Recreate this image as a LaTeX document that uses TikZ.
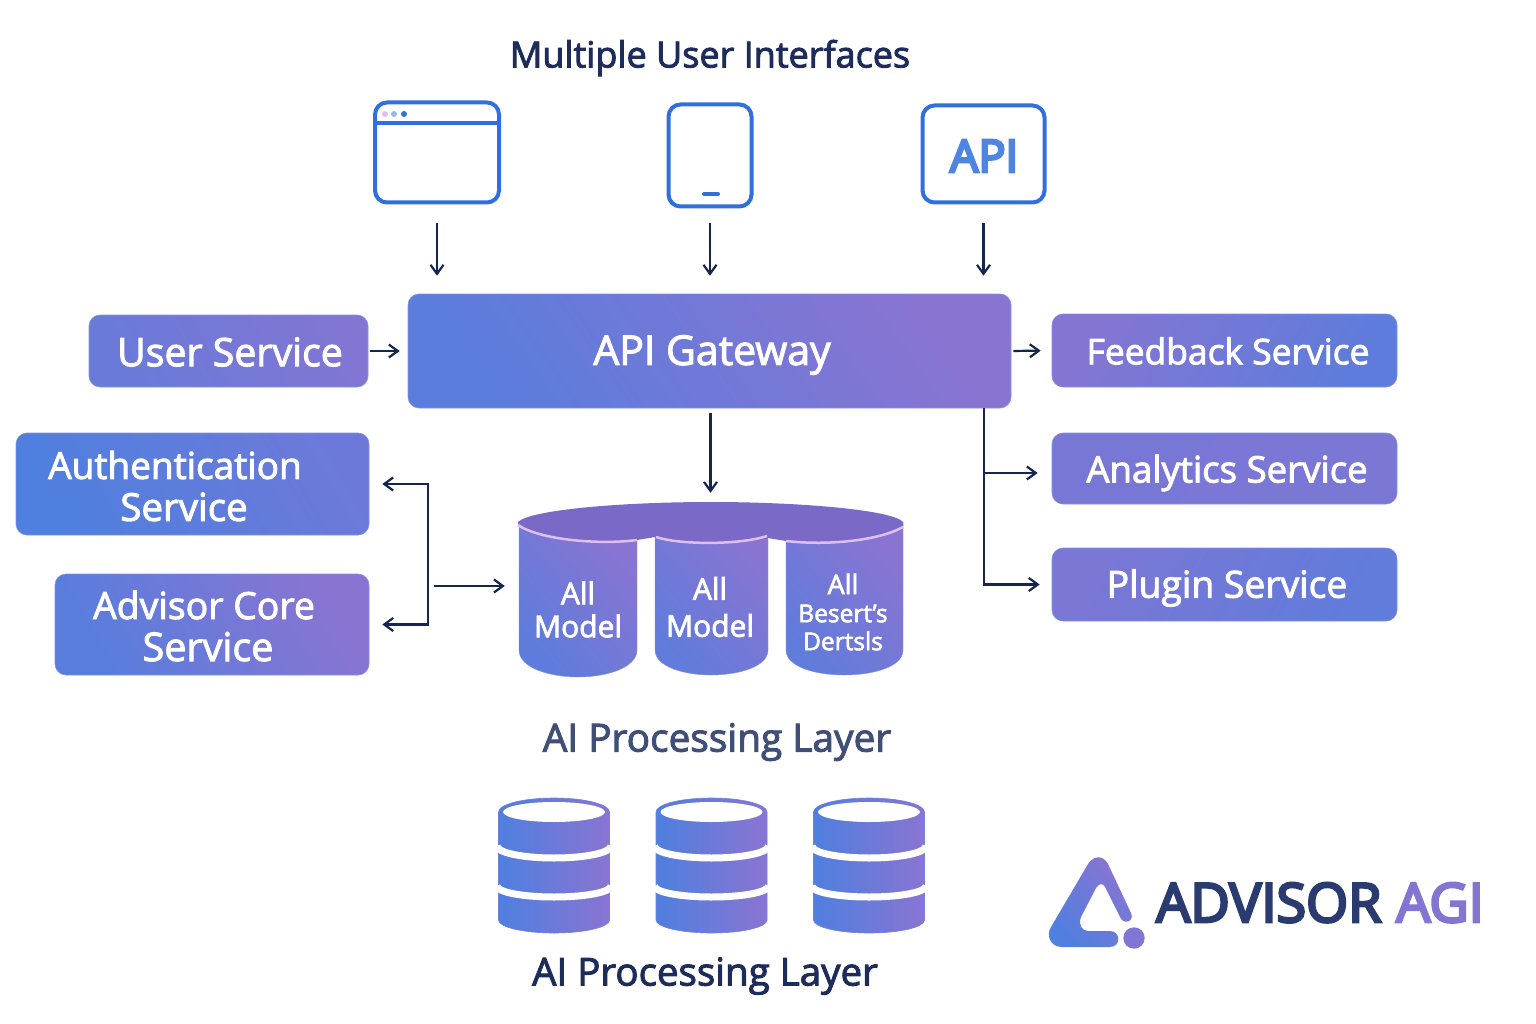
\documentclass[tikz,border=0pt]{standalone}
\usepackage{fontspec}
\setmainfont{Open Sans}[FakeBold=2.5]
\newfontfamily\logofont{Open Sans}[FakeBold=5]
\newfontfamily\apifont{Open Sans}[FakeBold=6]
\usetikzlibrary{calc,positioning,arrows.meta}
\definecolor{navy}{HTML}{14264F}
\definecolor{ink}{HTML}{1E2C5C}
\definecolor{slateink}{HTML}{3F4F78}
\definecolor{iconblue}{HTML}{2F6FDE}
\definecolor{gradblue}{HTML}{4F7FDF}
\definecolor{gradpurple}{HTML}{8A74D2}
\definecolor{edgeblue}{HTML}{4C62D6}
\definecolor{lidpurple}{HTML}{7A69C6}
\definecolor{lidpink}{HTML}{DDBFF0}
\definecolor{logoink}{HTML}{2A3B70}
\begin{document}
\begin{tikzpicture}[x=1pt,y=-1pt,>={Straight Barb[length=9pt,width=13pt]}]
\tikzstyle{flow}=[draw=navy, line width=2.2pt, ->]
\tikzstyle{box}=[shade, draw=edgeblue!70, line width=.6pt, rounded corners=11pt, inner sep=0pt]
\tikzstyle{icon}=[draw=iconblue, line width=4pt, rounded corners=12pt, inner sep=0pt]
\tikzstyle{boxtext}=[text=white, align=center, inner sep=0pt]
\tikzstyle{modeltext}=[text=white, align=center, inner sep=0pt]
\useasboundingbox (0,0) rectangle (1536,1024);
\node[inner sep=0pt, text=ink, font=\fontsize{36}{42}\selectfont] (uititle) at (710,58) {Multiple User Interfaces};
% interfaces
\node[icon, minimum width=124pt, minimum height=100pt] (browser) at (437,152.5) {};
\node[icon, minimum width=83pt, minimum height=102pt] (tablet) at (710,155.5) {};
\node[icon, minimum width=122pt, minimum height=97pt] (apibox) at (983.5,154) {};
\node[inner sep=0pt, text=iconblue!85!white, font=\fontsize{45}{50}\selectfont\apifont] (apitext) at (984,156) {API};
\draw[iconblue, line width=3.5pt] (browser.west |- 0,123) -- (browser.east |- 0,123);
\fill[lidpink] (385,114) circle (3pt);
\fill[iconblue!50] (394,114) circle (3pt);
\fill[iconblue] (404,114) circle (3pt);
\draw[iconblue, line width=4pt, line cap=round] (704,194) -- (718,194);
% services
\node[box, minimum width=603pt, minimum height=114pt, left color=gradblue!80!gradpurple,
      right color=gradpurple, shading angle=125] (gateway) at (709.5,351) {};
\node[box, minimum width=279pt, minimum height=72pt, left color=gradblue!55!gradpurple,
      right color=gradpurple!85!gradblue, shading angle=120] (user) at (228.5,351) {};
\node[box, minimum width=353pt, minimum height=102pt, left color=gradblue,
      right color=gradblue!50!gradpurple, shading angle=120] (auth) at (192.5,484) {};
\node[box, minimum width=314pt, minimum height=101pt, left color=gradblue!85!gradpurple,
      right color=gradpurple, shading angle=120] (advisor) at (212,624.5) {};
\node[box, minimum width=345pt, minimum height=73pt, left color=gradpurple!90!gradblue,
      right color=gradblue!75!gradpurple, shading angle=60] (feedback) at (1224.5,350.5) {};
\node[box, minimum width=345pt, minimum height=71pt, left color=gradpurple!70!gradblue,
      right color=gradpurple!75!gradblue, shading angle=60] (analytics) at (1224.5,468.5) {};
\node[box, minimum width=345pt, minimum height=73pt, left color=gradpurple!75!gradblue,
      right color=gradblue!70!gradpurple, shading angle=60] (plugin) at (1224.5,584.5) {};
\node[boxtext, font=\fontsize{39.3}{42}\selectfont] (usertext) at (230,352) {User Service};
\node[boxtext, font=\fontsize{37}{42}\selectfont] (authtext) at (175,486) {Authentication\\\hspace{18pt}\fontsize{38.5}{42}\selectfont Service};
\node[boxtext, font=\fontsize{37.4}{42}\selectfont] (advisortext) at (204,626) {Advisor Core\\\hspace{8pt}\fontsize{39.5}{42}\selectfont Service};
\node[boxtext, font=\fontsize{41}{46}\selectfont] (gatewaytext) at (712,355) {API Gateway};
\node[boxtext, font=\fontsize{35.4}{40}\selectfont] (feedbacktext) at (1228,351) {Feedback Service};
\node[boxtext, font=\fontsize{36.6}{40}\selectfont] (analyticstext) at (1227,473) {Analytics Service};
\node[boxtext, font=\fontsize{37.3}{40}\selectfont] (plugintext) at (1227,588) {Plugin Service};
% model cylinders
\path[minimum width=385pt, minimum height=175pt] node (models) at (710.5,589.5) {};
\shade[left color=gradblue!75!gradpurple, right color=gradpurple, shading angle=130, draw=edgeblue!70]
  (519,522) -- (519,650) .. controls (519,668) and (550,677) .. (578,677)
  .. controls (606,677) and (637,668) .. (637,650) -- (637,522) -- cycle;
\shade[left color=gradblue!70!gradpurple, right color=gradpurple, shading angle=130, draw=edgeblue!70]
  (655,522) -- (655,650) .. controls (655,667) and (685,675) .. (711,675)
  .. controls (738,675) and (768,667) .. (768,650) -- (768,522) -- cycle;
\shade[left color=gradblue!70!gradpurple, right color=gradpurple, shading angle=130, draw=edgeblue!70]
  (786,522) -- (786,650) .. controls (786,667) and (816,675) .. (844,675)
  .. controls (873,675) and (903,667) .. (903,650) -- (903,522) -- cycle;
\fill[lidpurple] (518,522) .. controls (530,510) and (620,502) .. (711,502)
  .. controls (800,502) and (893,510) .. (903,522) -- (903,527)
  .. controls (880,540) and (830,546) .. (786,541) -- (768,538)
  .. controls (740,545) and (680,545) .. (655,537) -- (637,540)
  .. controls (600,545) and (540,540) .. (518,525) -- cycle;
\draw[lidpink, line width=2.5pt] (518,525) .. controls (540,540) and (600,545) .. (637,540);
\draw[lidpink, line width=2.5pt] (656,537) .. controls (680,545) and (740,545) .. (767,536);
\draw[lidpink, line width=2.5pt] (786,541) .. controls (830,546) and (880,540) .. (903,527);
\node[modeltext, font=\fontsize{30}{33}\selectfont] (modela) at (578,609.5) {All\\Model};
\node[modeltext, font=\fontsize{30}{37}\selectfont] (modelb) at (710,607) {All\\Model};
\node[modeltext, font=\fontsize{27}{28}\selectfont] (modelc) at (843,612) {All\\\fontsize{24.5}{24}\selectfont Besert's\\\fontsize{24.5}{23}\selectfont Dertsls};
\node[inner sep=0pt, text=slateink, font=\fontsize{38.8}{44}\selectfont] (aititle) at (717,742) {AI Processing Layer};
% storage
\foreach \x in {554,711.5,869}{
  \begin{scope}[shift={(\x,0)}]
  \shade[left color=gradblue, right color=gradpurple, draw=edgeblue!80, line width=.6pt]
    (-55.5,812) -- (-55.5,920) arc[start angle=180, end angle=0, x radius=55.5, y radius=13]
    -- (55.5,812) arc[start angle=0, end angle=-180, x radius=55.5, y radius=14] -- cycle;
  \fill[white] (0,812) ellipse (51pt and 10pt);
  \draw[white, line width=7pt] (-57,846) arc[start angle=180, end angle=0, x radius=57, y radius=12];
  \draw[white, line width=7pt] (-57,886) arc[start angle=180, end angle=0, x radius=57, y radius=11];
  \end{scope}
}
\node[inner sep=0pt, text=ink, font=\fontsize{38.5}{44}\selectfont] (storetitle) at (705,976) {AI Processing Layer};
% logo
\shade[left color=gradblue, right color=gradpurple, shading angle=135]
  (1110,931) .. controls (1121,931) and (1121,947) .. (1110,947) -- (1062,947)
  .. controls (1050,947) and (1046,935) .. (1051,927) -- (1088,864)
  .. controls (1094,855) and (1103,855) .. (1108,864) -- (1131,913)
  .. controls (1135,922) and (1123,925) .. (1120,917) -- (1105,887)
  .. controls (1103,883) and (1099,883) .. (1096,888) -- (1081,917)
  .. controls (1078,925) and (1082,931) .. (1088,931) -- cycle;
\fill[gradpurple!85!gradblue] (1134,938) circle (10.7pt);
\node[anchor=base west, inner sep=0pt, text=logoink, font=\fontsize{54}{60}\selectfont\logofont] (logotext) at (1156,922) {ADVISOR};
\node[anchor=base west, inner sep=0pt, text=gradpurple!90!gradblue, font=\fontsize{54}{60}\selectfont\logofont] (logoagi) at (1396,922) {AGI};
% connectors
\coordinate (busleft) at (428,484);
\coordinate (busmid) at (428,586);
\coordinate (busright) at (984,473);
\foreach \i/\j in {browser/19,tablet/15,apibox/19}{\draw[flow, shorten <=\j pt, shorten >=18pt] (\i.south) -- (\i.south |- gateway.north);}
\draw[flow, shorten <=2pt, shorten >=8pt] (user.east) -- (gateway.west);
\draw[flow, shorten <=2pt, shorten >=11pt] (gateway.east) -- (feedback.west);
\draw[flow, shorten <=5pt, shorten >=9pt] (gateway.south -| models.north) -- (models.north);
\draw[flow, shorten >=12pt] (gateway.south -| busright) |- (plugin.west);
\draw[flow, shorten >=14pt] (busright) -- (busright -| analytics.west);
\draw[flow, <->, shorten <=13pt, shorten >=13pt] (auth.east) -- (busleft) |- (advisor.east);
\draw[flow, shorten <=6pt, shorten >=13pt] (busmid) -- (busmid -| models.west);
\end{tikzpicture}
\end{document}
